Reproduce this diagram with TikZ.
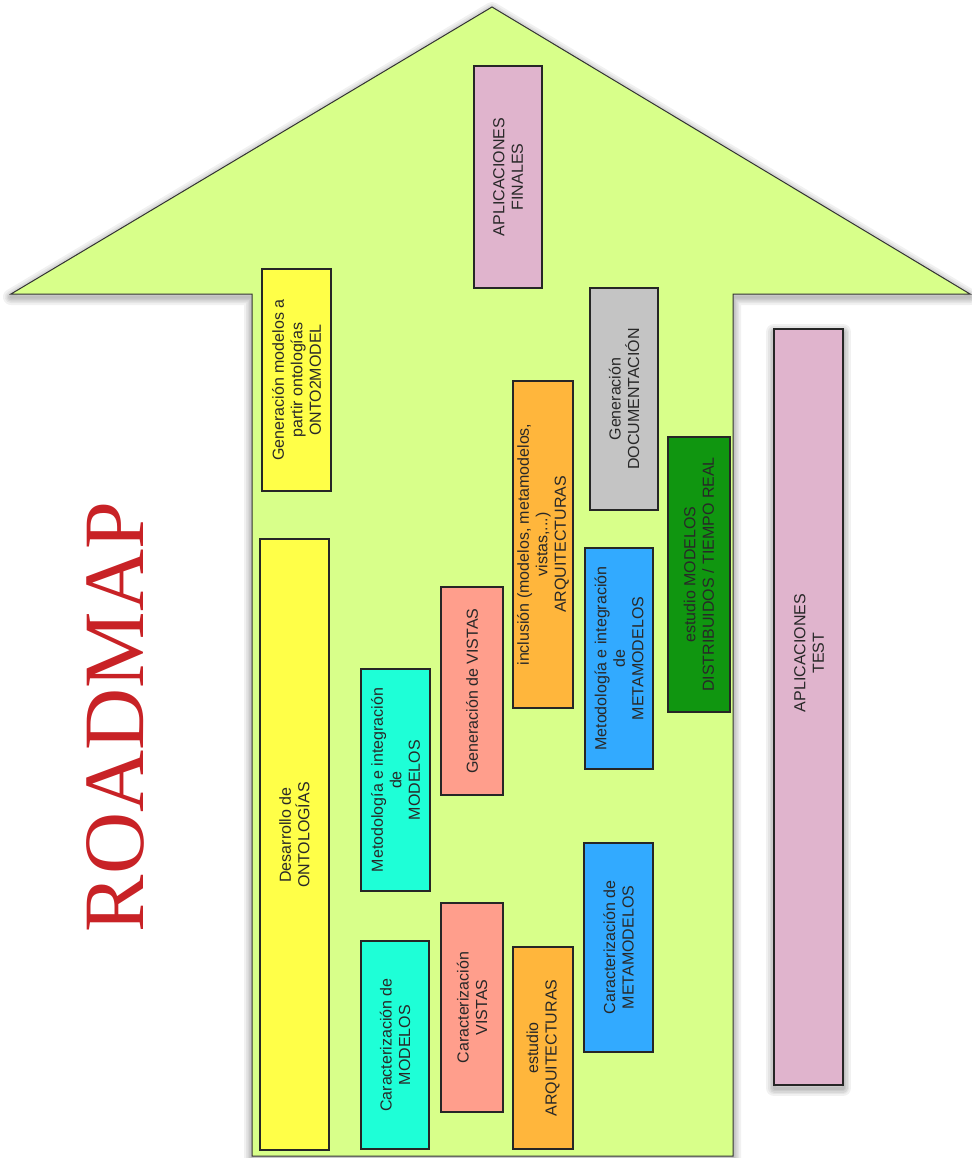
\documentclass[tikz,border=0pt]{standalone}
\usepackage{fontspec}
\newfontfamily\boxfont{Liberation Sans}
\newfontfamily\titlefont{Liberation Serif}

\definecolor{arrowfill}{RGB}{216,255,138}
\definecolor{yellowbox}{RGB}{255,255,72}
\definecolor{pinkbox}{RGB}{224,180,205}
\definecolor{graybox}{RGB}{196,196,196}
\definecolor{orangebox}{RGB}{255,182,60}
\definecolor{greenbox}{RGB}{16,150,16}
\definecolor{bluebox}{RGB}{50,170,255}
\definecolor{cyanbox}{RGB}{30,255,215}
\definecolor{salmonbox}{RGB}{255,158,140}
\definecolor{boxink}{RGB}{40,40,40}
\definecolor{titlered}{RGB}{200,34,38}

\tikzset{
  % one layer of a soft drop shadow, stacked with growing widths
  shadowlayer/.style={draw=black, opacity=0.055, line join=round, yshift=-3pt},
  % a task bar: text runs upward, so width is the bar's height on the page
  taskbar/.style={draw=black!85, line width=1.3pt, rotate=90, inner sep=2pt,
      align=center, text=boxink, font=\boxfont\fontsize{16}{18.5}\selectfont},
  tasktext/.style={rotate=90, align=center, text=boxink, inner sep=0pt,
      font=\boxfont\fontsize{16}{18.5}\selectfont},
}

\begin{document}
\begin{tikzpicture}[x=1pt, y=-1pt]
\useasboundingbox (0,0) rectangle (971,1158);

% soft shadows under the arrow and the test bar
\foreach \w in {16,12,9,6,3}{
  \draw[shadowlayer, line width=\w pt]
    (492,7) -- (970,294) -- (733,294) -- (733,1156) -- (252,1156)
    -- (252,294) -- (11,294) -- cycle;
  \draw[shadowlayer, line width=\w pt] (774,329) rectangle (843,1085);
}

% the big upward arrow
\draw[fill=arrowfill, draw=black!80, line width=1pt]
  (492,7) -- (970,294) -- (733,294) -- (733,1156) -- (252,1156)
  -- (252,294) -- (11,294) -- cycle;

% vertical title
\node[rotate=90, text=titlered, inner sep=0pt,
      font=\titlefont\fontsize{86}{86}\selectfont] (title) at (115,717) {ROADMAP};

% column 1
\node[taskbar, fill=yellowbox, minimum width=222, minimum height=69]
  (onto2model) at (296.5,380)
  {Generación modelos a\\partir ontologías\\ONTO2MODEL};
\node[taskbar, fill=yellowbox, minimum width=611, minimum height=69]
  (ontologias) at (294.5,844.5) {};
\node[tasktext] (ontologiastext) at (294.5,835) {Desarrollo de\\ONTOLOGÍAS};

% column 2
\node[taskbar, fill=cyanbox, minimum width=222, minimum height=69]
  (metmodelos) at (395.5,780)
  {Metodología e integración\\de\\MODELOS};
\node[taskbar, fill=cyanbox, minimum width=208, minimum height=68]
  (carmodelos) at (395,1045)
  {Caracterización de\\MODELOS};

% column 3
\node[taskbar, fill=salmonbox, minimum width=208, minimum height=62]
  (genvistas) at (472,691) {Generación de VISTAS};
\node[taskbar, fill=salmonbox, minimum width=209, minimum height=62]
  (carvistas) at (472,1007.5) {Caracterización\\VISTAS};

% column 4
\node[taskbar, fill=pinkbox, minimum width=222, minimum height=68]
  (finales) at (508,177) {APLICACIONES\\FINALES};
\node[taskbar, fill=orangebox, minimum width=327, minimum height=60]
  (inclusion) at (543,544.5)
  {inclusión (modelos, metamodelos,\\vistas,...)\\ARQUITECTURAS};
\node[taskbar, fill=orangebox, minimum width=202, minimum height=60]
  (estarq) at (543,1048) {estudio\\ARQUITECTURAS};

% column 5
\node[taskbar, fill=graybox, minimum width=222, minimum height=68]
  (documentacion) at (624,399) {Generación\\DOCUMENTACIÓN};
\node[taskbar, fill=bluebox, minimum width=221, minimum height=68]
  (metmeta) at (619,658.5)
  {Metodología e integración\\de\\METAMODELOS};
\node[taskbar, fill=bluebox, minimum width=209, minimum height=69]
  (carmeta) at (618.5,947.5)
  {Caracterización de\\METAMODELOS};

% column 6
\node[taskbar, fill=greenbox, minimum width=275, minimum height=62]
  (distribuidos) at (699,574.5)
  {estudio MODELOS\\DISTRIBUIDOS / TIEMPO REAL};

% outside the arrow
\node[taskbar, fill=pinkbox, minimum width=756, minimum height=69]
  (test) at (808.5,707) {};
\node[tasktext] (testtext) at (809,653) {APLICACIONES\\TEST};
\end{tikzpicture}
\end{document}
